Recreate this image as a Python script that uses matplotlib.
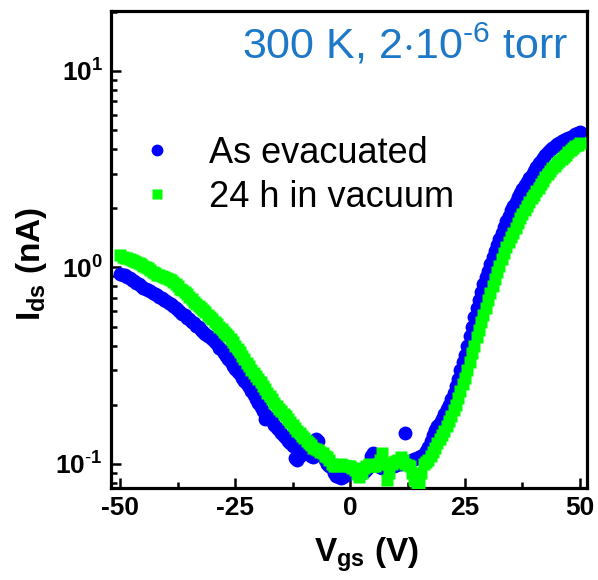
import matplotlib
matplotlib.use('Agg')
import matplotlib.pyplot as plt
import matplotlib as mpl
from matplotlib.ticker import FixedLocator, NullFormatter

# gate voltage (V), one reading every 0.5 V from -50 to 50
vgs = [v / 2 for v in range(-100, 101)]

# drain current (nA), as evacuated  (10 readings = 5 V per row)
i_evac = [0.93, 0.92, 0.91, 0.895, 0.88, 0.865, 0.85, 0.835, 0.82, 0.805,    # -50
          0.79, 0.78, 0.77, 0.755, 0.745, 0.73, 0.72, 0.71, 0.70, 0.685,     # -45
          0.675, 0.66, 0.65, 0.635, 0.62, 0.61, 0.595, 0.58, 0.57, 0.555,    # -40
          0.545, 0.53, 0.52, 0.505, 0.495, 0.48, 0.47, 0.46, 0.45, 0.44,     # -35
          0.43, 0.415, 0.405, 0.39, 0.38, 0.365, 0.355, 0.34, 0.33, 0.315,   # -30
          0.305, 0.295, 0.285, 0.275, 0.265, 0.255, 0.245, 0.235, 0.225, 0.215,  # -25
          0.205, 0.195, 0.185, 0.17, 0.175, 0.17, 0.165, 0.158, 0.152, 0.148,    # -20
          0.144, 0.139, 0.135, 0.131, 0.127, 0.123, 0.107, 0.104, 0.11, 0.12,    # -15
          0.118, 0.115, 0.112, 0.11, 0.108, 0.133, 0.13, 0.115, 0.11, 0.105,     # -10
          0.10, 0.097, 0.095, 0.09, 0.087, 0.086, 0.085, 0.086, 0.088, 0.09,     # -5
          0.092, 0.093, 0.094, 0.092, 0.09, 0.09, 0.091, 0.093, 0.096, 0.11,     # 0
          0.114, 0.10, 0.098, 0.096, 0.095, 0.094, 0.094, 0.095, 0.097, 0.098,   # 5
          0.099, 0.10, 0.10, 0.101, 0.144, 0.102, 0.103, 0.104, 0.106, 0.107,    # 10
          0.108, 0.11, 0.112, 0.116, 0.122, 0.13, 0.14, 0.148, 0.155, 0.162,     # 15
          0.17, 0.18, 0.19, 0.20, 0.215, 0.23, 0.25, 0.27, 0.30, 0.33,           # 20
          0.36, 0.40, 0.45, 0.50, 0.56, 0.62, 0.68, 0.75, 0.82, 0.89,            # 25
          0.96, 1.04, 1.13, 1.21, 1.30, 1.40, 1.50, 1.61, 1.72, 1.83,            # 30
          1.95, 2.05, 2.15, 2.28, 2.40, 2.50, 2.62, 2.73, 2.85, 2.97,            # 35
          3.10, 3.25, 3.40, 3.50, 3.60, 3.72, 3.85, 3.95, 4.05, 4.15,            # 40
          4.25, 4.32, 4.40, 4.45, 4.50, 4.55, 4.60, 4.68, 4.75, 4.82,            # 45
          4.90]                                                                 # 50

# drain current (nA), after 24 h in vacuum
i_24h = [1.15, 1.135, 1.12, 1.11, 1.10, 1.09, 1.08, 1.065, 1.05, 1.035,       # -50
         1.02, 1.005, 0.99, 0.97, 0.95, 0.935, 0.92, 0.91, 0.90, 0.89,        # -45
         0.88, 0.87, 0.86, 0.84, 0.82, 0.80, 0.78, 0.765, 0.75, 0.73,         # -40
         0.71, 0.69, 0.67, 0.65, 0.635, 0.62, 0.605, 0.59, 0.575, 0.56,       # -35
         0.545, 0.53, 0.515, 0.50, 0.485, 0.47, 0.46, 0.445, 0.43, 0.415,     # -30
         0.40, 0.385, 0.37, 0.355, 0.34, 0.327, 0.315, 0.302, 0.29, 0.28,     # -25
         0.27, 0.26, 0.25, 0.24, 0.23, 0.222, 0.213, 0.205, 0.198, 0.191,     # -20
         0.185, 0.18, 0.175, 0.169, 0.163, 0.157, 0.152, 0.147, 0.143, 0.139,  # -15
         0.135, 0.131, 0.127, 0.124, 0.12, 0.119, 0.118, 0.115, 0.113, 0.11,   # -10
         0.108, 0.104, 0.10, 0.098, 0.097, 0.099, 0.10, 0.099, 0.098, 0.097,   # -5
         0.097, 0.095, 0.093, 0.089, 0.086, 0.09, 0.095, 0.098, 0.10, 0.098,   # 0
         0.097, 0.098, 0.10, 0.105, 0.113, 0.10, 0.083, 0.09, 0.10, 0.102,     # 5
         0.103, 0.105, 0.108, 0.104, 0.10, 0.099, 0.098, 0.09, 0.083, 0.08,   # 10
         0.079, 0.09, 0.10, 0.102, 0.105, 0.11, 0.115, 0.121, 0.128, 0.134,   # 15
         0.14, 0.147, 0.155, 0.165, 0.175, 0.187, 0.20, 0.217, 0.235, 0.255,  # 20
         0.275, 0.30, 0.33, 0.365, 0.40, 0.44, 0.48, 0.525, 0.57, 0.62,       # 25
         0.68, 0.74, 0.80, 0.87, 0.95, 1.02, 1.10, 1.18, 1.27, 1.35,          # 30
         1.42, 1.50, 1.58, 1.68, 1.78, 1.87, 1.97, 2.06, 2.15, 2.25,          # 35
         2.35, 2.45, 2.55, 2.65, 2.75, 2.87, 3.00, 3.10, 3.20, 3.30,          # 40
         3.40, 3.47, 3.55, 3.65, 3.75, 3.85, 3.95, 4.05, 4.15, 4.22,          # 45
         4.30]                                                                # 50

xticks = [-50, -25, 0, 25, 50]
yticks = [0.1, 1, 10]
ytick_labels = [r'$\mathbf{10^{\text{-}1}}$', r'$\mathbf{10^{0}}$', r'$\mathbf{10^{1}}$']


def init():
    mpl.rcParams['font.family'] = ['Liberation Sans', 'DejaVu Sans']
    mpl.rcParams['mathtext.fontset'] = 'custom'
    mpl.rcParams['mathtext.rm'] = 'Liberation Sans'
    mpl.rcParams['mathtext.bf'] = 'Liberation Sans:bold'
    mpl.rcParams['mathtext.default'] = 'rm'
    fig = plt.figure(figsize=(5.98, 5.80), dpi=100)
    ax = fig.add_axes([0.186, 0.159, 0.796, 0.822])
    return fig, ax


def plot():
    fig, ax = init()

    ax.plot(vgs, i_evac, 'o', color='#0000ff', ms=10, mec='none', label='As evacuated', zorder=2)
    ax.plot(vgs, i_24h, 's', color='#00ff00', ms=8.5, mec='none', label='24 h in vacuum', zorder=3)

    ax.set_yscale('log')
    ax.set_xlim(-52, 51.6)
    ax.set_ylim(0.0755, 20.2)

    ax.set_xticks(xticks)
    ax.set_xticklabels([str(t) for t in xticks], fontsize=19, fontweight='bold')
    ax.xaxis.set_minor_locator(FixedLocator([-37.5, -12.5, 12.5, 37.5]))
    ax.set_yticks(yticks)
    ax.set_yticklabels(ytick_labels, fontsize=19)
    ax.yaxis.set_minor_formatter(NullFormatter())

    ax.tick_params(which='both', direction='in', top=False, right=False, width=1.8)
    ax.tick_params(which='major', length=7, pad=6)
    ax.tick_params(which='minor', length=4)
    for s in ax.spines.values():
        s.set_linewidth(2.3)

    ax.set_xlabel(r'V$_{\mathbf{gs}}$ (V)', fontsize=24, fontweight='bold')
    ax.xaxis.set_label_coords(0.536, -0.10)
    ax.set_ylabel(r'I$_{\mathbf{ds}}$ (nA)', fontsize=24, fontweight='bold')
    ax.yaxis.set_label_coords(-0.13, 0.47)

    ax.text(0.96, 0.93, r'300 K, 2$\cdot$10$^{\text{-6}}$ torr', transform=ax.transAxes,
            ha='right', va='center', fontsize=31, color='#1e78c8')

    ax.legend(loc='upper left', bbox_to_anchor=(0.058, 0.738), frameon=False,
              fontsize=26, numpoints=1, markerscale=0.85, handlelength=1.0,
              handletextpad=0.95, borderpad=0, labelspacing=0.25, borderaxespad=0)

    plt.savefig('out.png', dpi=100)


if __name__ == '__main__':
    plot()
